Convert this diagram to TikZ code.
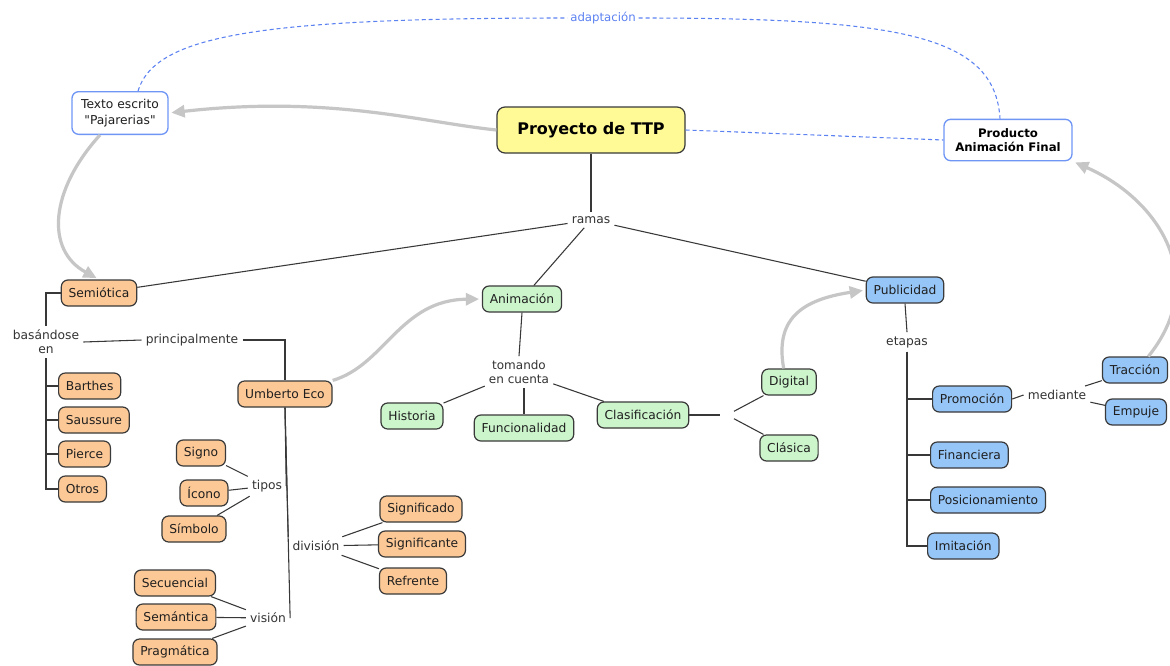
\documentclass[tikz,border=0pt]{standalone}
\usepackage{fontspec}
\setmainfont{DejaVu Sans}
\newfontfamily\qfont{DejaVu Sans}
\usetikzlibrary{arrows.meta}
\definecolor{orangef}{HTML}{FCC896}
\definecolor{greenf}{HTML}{CCF5CC}
\definecolor{bluef}{HTML}{96C6F8}
\definecolor{yellowf}{HTML}{FFFA96}
\definecolor{blueline}{HTML}{6F96F5}
\definecolor{dashblue}{HTML}{5C82F2}
\definecolor{boxline}{HTML}{3A3A3A}
\definecolor{grayarrow}{HTML}{C6C6C6}
\tikzset{
  box/.style={draw=boxline, line width=0.9pt, rounded corners=5pt, inner xsep=5.5pt,
    minimum height=19.5pt, font=\fontsize{9.2}{11}\selectfont, text=black!88},
  ob/.style={box, fill=orangef},
  gb/.style={box, fill=greenf},
  bb/.style={box, fill=bluef},
  lnk/.style={font=\fontsize{9.2}{11}\selectfont, text=black!80, inner sep=3pt, align=center},
  con/.style={draw=black!78, line width=0.8pt},
  garrow/.style={draw=grayarrow, line width=2.4pt, -{Triangle[length=10pt,width=9pt]}, shorten >=2pt},
  dashl/.style={draw=dashblue, line width=0.8pt, dash pattern=on 3pt off 2.2pt}
}
\begin{document}
\begin{tikzpicture}[x=0.75pt,y=-0.75pt]
\fill[white] (0,0) rectangle (1170,665);
\path[use as bounding box] (0,0) rectangle (1170,665);
\clip (0,0) rectangle (1170,665);

% top nodes
\node[draw=blueline, line width=1pt, rounded corners=5pt, fill=white, align=center,
  minimum width=72pt, minimum height=32pt, inner sep=2pt,
  font=\qfont\fontsize{9.2}{11.5}\selectfont, text=black!88] (texto) at (120,113) {Texto escrito\\"Pajarerias"};
\node[draw=boxline, line width=0.9pt, rounded corners=6pt, fill=yellowf,
  minimum width=141pt, minimum height=34.5pt,
  font=\fontsize{12}{14}\selectfont\bfseries, text=black] (proy) at (591,130) {Proyecto de TTP};
\node[draw=blueline, line width=1pt, rounded corners=5pt, fill=white, align=center,
  minimum width=96pt, minimum height=31pt, inner sep=2pt,
  font=\fontsize{8.8}{11}\selectfont\bfseries, text=black] (prod) at (1008,140) {Producto\\Animación Final};
\node[font=\fontsize{8.8}{10}\selectfont, text=dashblue, inner sep=2pt] (adapt) at (603,18) {adaptación};

\node[lnk] (ramas) at (591,220) {ramas};

% main branches
\node[ob] (semio) at (99,293) {Semiótica};
\node[gb] (anim) at (522,299) {Animación};
\node[bb] (publi) at (905,290) {Publicidad};

% semiotica branch
\node[lnk, font=\fontsize{9.2}{10.5}\selectfont] (bas) at (46,342) {basándose\\en};
\node[lnk] (princ) at (192,340) {principalmente};
\node[ob] (eco) at (285,394) {Umberto Eco};
\node[ob, anchor=west] (barthes) at (58,386) {Barthes};
\node[ob, anchor=west] (saussure) at (58,420) {Saussure};
\node[ob, anchor=west] (pierce) at (58,454) {Pierce};
\node[ob, anchor=west] (otros) at (58,489) {Otros};

\node[ob] (signo) at (201,453) {Signo};
\node[ob] (icono) at (204,493) {Ícono};
\node[ob] (simbolo) at (194,529) {Símbolo};
\node[lnk] (tipos) at (267,486) {tipos};

\node[lnk] (division) at (316,546) {división};
\node[ob] (significado) at (421,509) {Significado};
\node[ob] (significante) at (422,544) {Significante};
\node[ob] (refrente) at (413,581) {Refrente};

\node[lnk] (vision) at (268,618) {visión};
\node[ob] (secuencial) at (175,583) {Secuencial};
\node[ob] (semantica) at (176,617) {Semántica};
\node[ob] (pragmatica) at (175,652) {Pragmática};

% animacion branch
\node[lnk, font=\fontsize{9}{10.5}\selectfont] (tom) at (519,372) {tomando\\en cuenta};
\node[gb] (historia) at (412,416) {Historia};
\node[gb] (func) at (524,428) {Funcionalidad};
\node[gb] (clasif) at (643,415) {Clasificación};
\node[inner sep=0pt, minimum width=10pt, minimum height=14pt] (cj) at (727,415) {};
\node[gb] (digital) at (789,382) {Digital};
\node[gb] (clasica) at (789,448) {Clásica};

% publicidad branch
\node[lnk] (etapas) at (907,342) {etapas};
\node[bb, anchor=west] (promo) at (932,399) {Promoción};
\node[bb, anchor=west] (financiera) at (930,455) {Financiera};
\node[bb, anchor=west] (posic) at (930,500) {Posicionamiento};
\node[bb, anchor=west] (imitacion) at (927,546) {Imitación};
\node[lnk] (mediante) at (1057,395) {mediante};
\node[bb] (traccion) at (1135,370) {Tracción};
\node[bb] (empuje) at (1136,412) {Empuje};

% connectors
\draw[con] (proy.south) -- (ramas.north);
\draw[con] (ramas) -- (semio);
\draw[con] (ramas) -- (anim);
\draw[con] (ramas) -- (publi);

\draw[con] (semio.west) -| (bas.north);
\draw[con] (bas.south) |- (barthes.west);
\draw[con] (bas.south) |- (saussure.west);
\draw[con] (bas.south) |- (pierce.west);
\draw[con] (bas.south) |- (otros.west);
\draw[con] (bas.east) -- (princ.west);
\draw[con] (princ.east) -| (eco.north);

\draw[con] (eco.south) -- (tipos.east);
\draw[con] (eco.south) -- (division.north west);
\draw[con] (eco.south) -- (vision.east);

\draw[con] (tipos) -- (signo);
\draw[con] (tipos) -- (icono);
\draw[con] (tipos) -- (simbolo);
\draw[con] (division) -- (significado);
\draw[con] (division) -- (significante);
\draw[con] (division) -- (refrente);
\draw[con] (vision) -- (secuencial);
\draw[con] (vision) -- (semantica);
\draw[con] (vision) -- (pragmatica);

\draw[con] (anim.south) -- (tom.north);
\draw[con] (tom) -- (historia);
\draw[con] (func.north |- tom.south) -- (func.north);
\draw[con] (tom) -- (clasif);
\draw[con] (clasif) -- (cj);
\draw[con] (cj) -- (digital);
\draw[con] (cj) -- (clasica);

\draw[con] (publi.south) -- (etapas.north);
\draw[con] (etapas.south) |- (promo.west);
\draw[con] (etapas.south) |- (financiera.west);
\draw[con] (etapas.south) |- (posic.west);
\draw[con] (etapas.south) |- (imitacion.west);
\draw[con] (promo.east) -- (mediante.west);
\draw[con] (mediante) -- (traccion);
\draw[con] (mediante) -- (empuje);

% dashed blue links
\draw[dashl] (proy.east) -- (prod.west);
\draw[dashl] ([xshift=13.5pt]texto.north) .. controls (155,35) and (260,18) .. (adapt.west);
\draw[dashl] (adapt.east) .. controls (900,18) and (995,35) .. ([xshift=-6pt]prod.north);

% gray curved arrows
\draw[garrow] (proy.west) .. controls (420,122) and (330,95) .. (texto.east);
\draw[garrow] ([xshift=-15pt]texto.south) .. controls (50,190) and (45,250) .. (semio.north);
\draw[garrow] (eco.north east) .. controls (385,365) and (400,300) .. (anim.west);
\draw[garrow] ([xshift=-4pt]digital.north) .. controls (775,320) and (800,300) .. (publi.west);
\draw[garrow] ([xshift=10pt]traccion.north) .. controls (1210,280) and (1160,200) .. (prod.south east);
\end{tikzpicture}
\end{document}
